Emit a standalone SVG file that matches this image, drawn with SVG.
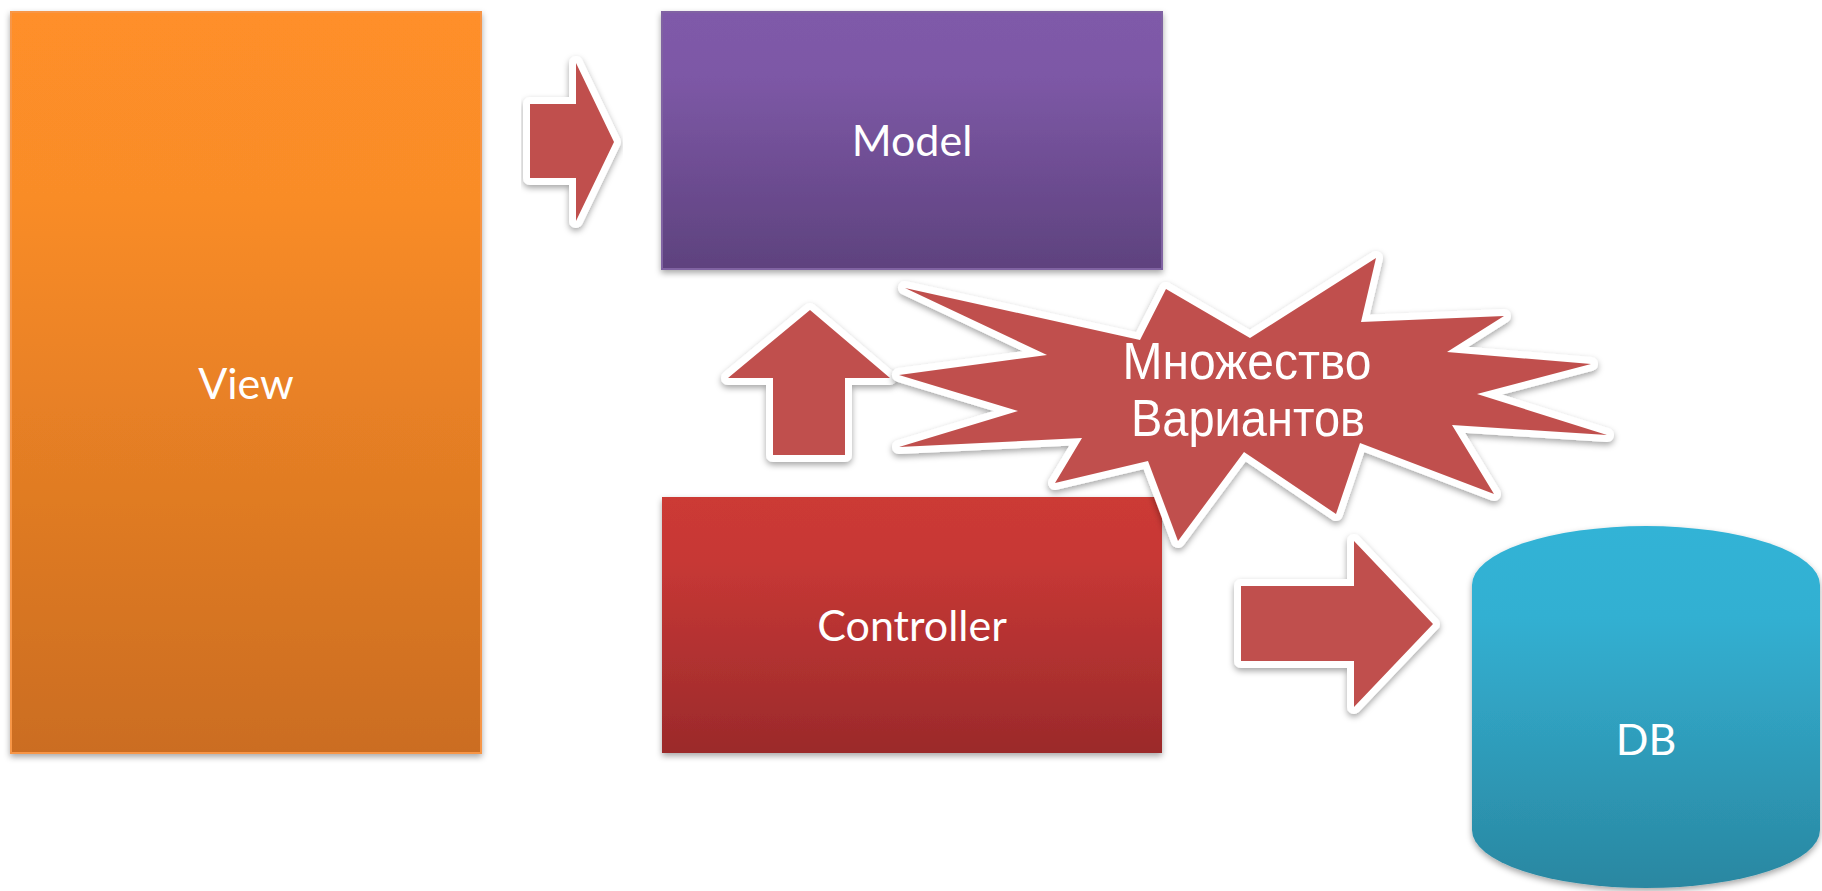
<svg xmlns="http://www.w3.org/2000/svg" width="1822" height="891" viewBox="0 0 1822 891">
  <defs>
    <linearGradient id="gView" x1="0" y1="0" x2="0" y2="1">
      <stop offset="0" stop-color="#FF8F29"/>
      <stop offset="0.25" stop-color="#F98C28"/>
      <stop offset="1" stop-color="#CB6D20"/>
    </linearGradient>
    <linearGradient id="gModel" x1="0" y1="0" x2="0" y2="1">
      <stop offset="0" stop-color="#7F5AA9"/>
      <stop offset="0.25" stop-color="#7D58A6"/>
      <stop offset="1" stop-color="#5E427E"/>
    </linearGradient>
    <linearGradient id="gCtrl" x1="0" y1="0" x2="0" y2="1">
      <stop offset="0" stop-color="#CC3A36"/>
      <stop offset="0.25" stop-color="#C73835"/>
      <stop offset="1" stop-color="#9B2A2B"/>
    </linearGradient>
    <linearGradient id="gDB" x1="0" y1="0" x2="0" y2="1">
      <stop offset="0" stop-color="#33B3D6"/>
      <stop offset="0.25" stop-color="#33B0D2"/>
      <stop offset="1" stop-color="#2A87A1"/>
    </linearGradient>
    <filter id="shadow" x="-10%" y="-10%" width="120%" height="125%">
      <feDropShadow dx="0" dy="3" stdDeviation="3" flood-color="#000" flood-opacity="0.35"/>
    </filter>
  </defs>
  <style>
    .lbl { font-family: Lato, "Open Sans", "Liberation Sans", sans-serif; font-size: 43px; fill: #FFFFFF; text-anchor: middle; }
    .star-lbl { font-family: "Liberation Sans", Arial, sans-serif; font-size: 52px; fill: #FFFFFF; text-anchor: middle; }
    .shape { stroke: #FFFFFF; stroke-width: 14; stroke-linejoin: round; paint-order: stroke; fill: #C0504D; filter: url(#shadow); }
  </style>

  <g id="view">
    <rect x="11" y="12" width="470" height="741" fill="url(#gView)" stroke="#F79646" stroke-width="2" filter="url(#shadow)"/>
    <text class="lbl" x="246" y="399">View</text>
  </g>

  <g id="model">
    <rect x="662" y="12" width="500" height="257" fill="url(#gModel)" stroke="#8064A2" stroke-width="2" filter="url(#shadow)"/>
    <text class="lbl" x="912" y="156">Model</text>
  </g>

  <g id="controller">
    <rect x="662" y="497" width="500" height="256" fill="url(#gCtrl)" filter="url(#shadow)"/>
    <text class="lbl" x="912" y="641">Controller</text>
  </g>

  <g id="db">
    <path d="M1472,585 A174,59 0 0 1 1820,585 L1820,830 A174,58 0 0 1 1472,830 Z" fill="url(#gDB)" filter="url(#shadow)"/>
    <text class="lbl" x="1646" y="755">DB</text>
  </g>

  <g id="connectors">
    <path class="shape" d="M530,104 L576,104 L576,63 L614,142 L576,221 L576,178 L530,178 Z"/>
    <path class="shape" d="M773,455 L773,378 L728,378 L810,310 L890,378 L845,378 L845,455 Z"/>
    <path class="shape" d="M1241,586 L1354,586 L1354,541 L1433,624 L1354,707 L1354,661 L1241,661 Z"/>
  </g>

  <g id="variants">
    <path class="shape" d="M905,288 L1140,340 L1166,289 L1250,338 L1376,258 L1361,322 L1504,316 L1447,352 L1591,364 L1477,394 L1607,435 L1452,425 L1494,494 L1360,443 L1336,514 L1244,452 L1178,541 L1148,461 L1055,483 L1082,438 L899,447 L1018,411 L899,375 L1047,355 Z"/>
    <text class="star-lbl" x="1247" y="379" textLength="249" lengthAdjust="spacingAndGlyphs">Множество</text>
    <text class="star-lbl" x="1248" y="436" textLength="234" lengthAdjust="spacingAndGlyphs">Вариантов</text>
  </g>
</svg>
